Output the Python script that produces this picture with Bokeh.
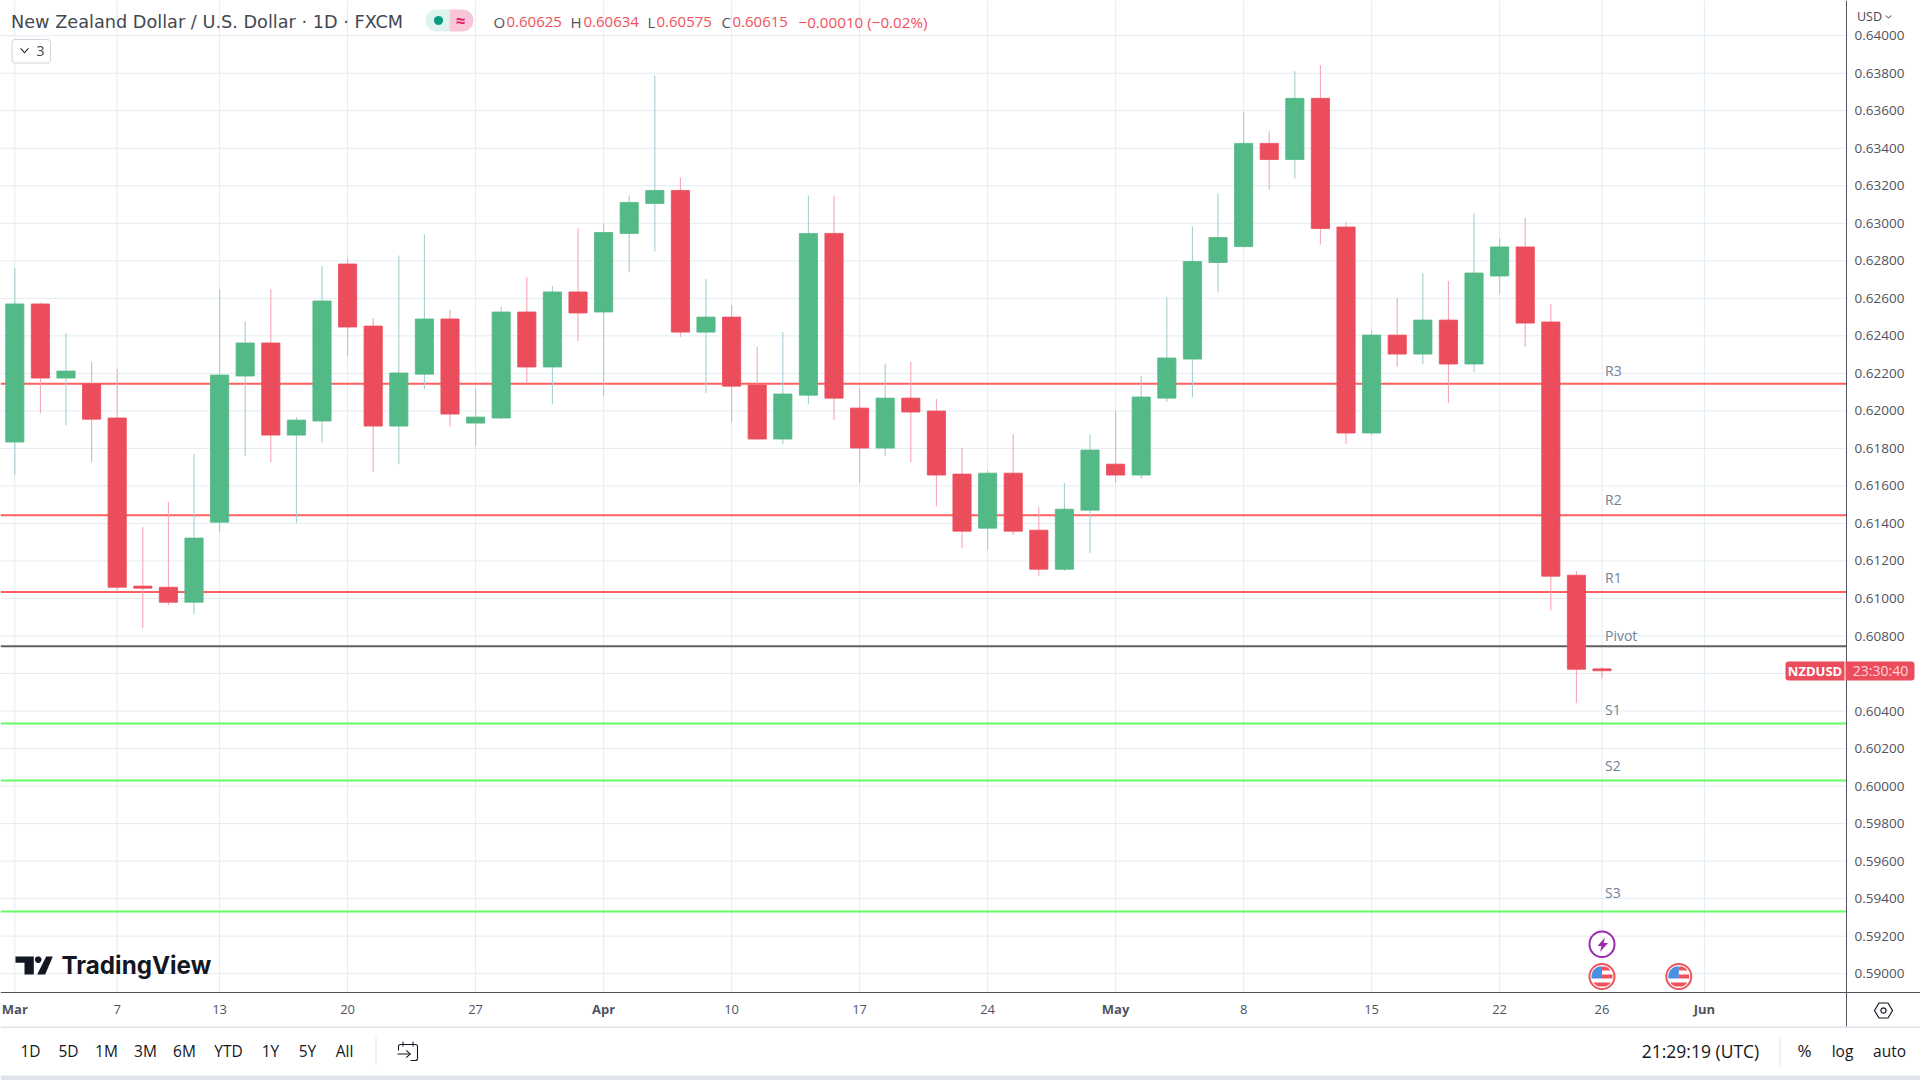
import math
from bokeh.core.properties import value
from bokeh.embed import file_html
from bokeh.models import (BoxAnnotation, ColumnDataSource, FixedTicker, Label, LabelSet,
                          NumeralTickFormatter, PolyAnnotation, Range1d)
from bokeh.plotting import figure
from bokeh.resources import INLINE

# ---- data ----------------------------------------------------------------------
candle_open = [
    .61834, .62570, .62175, .62143, .61962, .61066, .61060, .60980, .61407, .62186,
    .62362, .61871, .61946, .62783, .62452, .61919, .62196, .62490, .61935, .61962,
    .62527, .62234, .62634, .62527, .62946, .63106, .63175, .62420, .62500, .62138,
    .61850, .62084, .62946, .62015, .61802, .62068, .61999, .61663, .61375, .61668,
    .61364, .61156, .61471, .61716, .61658, .62068, .62276, .62791, .62876, .63426,
    .63340, .63666, .62980, .61882, .62404, .62303, .62484, .62250, .62719, .62874,
    .62474, .61124, .60625]
candle_high = [
    .62762, .62575, .62415, .62260, .62223, .61380, .61514, .61770, .62650, .62479,
    .62650, .61967, .62772, .62812, .62495, .62828, .62940, .62538, .62122, .62554,
    .62714, .62666, .62972, .62997, .63148, .63788, .63244, .62703, .62564, .62340,
    .62420, .63148, .63148, .62122, .62250, .62260, .62063, .61802, .61684, .61876,
    .61487, .61615, .61876, .61999, .62186, .62607, .62983, .63159, .63591, .63490,
    .63810, .63842, .63007, .62431, .62602, .62735, .62692, .63055, .62922, .63028,
    .62570, .61146, .60634]
candle_low = [
    .61658, .61988, .61924, .61727, .61034, .60842, .60964, .60916, .61354, .61759,
    .61727, .61402, .61828, .62292, .61674, .61716, .62116, .61914, .61812, .61956,
    .62148, .62036, .62372, .62079, .62738, .62850, .62394, .62095, .61940, .61844,
    .61823, .62036, .61951, .61615, .61759, .61727, .61492, .61268, .61258, .61338,
    .61119, .61146, .61242, .61615, .61636, .62047, .62074, .62631, .62870, .63180,
    .63239, .62887, .61823, .61871, .62234, .62250, .62042, .62207, .62623, .62340,
    .60938, .60442, .60575]
candle_close = [
    .62570, .62175, .62212, .61956, .61060, .61055, .60980, .61322, .62191, .62362,
    .61871, .61951, .62586, .62447, .61919, .62202, .62490, .61983, .61967, .62527,
    .62234, .62634, .62522, .62951, .63111, .63175, .62420, .62500, .62132, .61850,
    .62090, .62946, .62068, .61802, .62068, .61994, .61658, .61359, .61668, .61359,
    .61156, .61476, .61791, .61658, .62074, .62282, .62796, .62924, .63426, .63340,
    .63666, .62972, .61882, .62404, .62303, .62484, .62250, .62735, .62874, .62468,
    .61119, .60623, .60615]

x_tick_positions = [4, 8, 13, 18, 28, 33, 38, 48, 53, 58, 62]
x_tick_labels = ["7", "13", "20", "27", "10", "17", "24", "8", "15", "22", "26"]
month_positions = [0, 23, 43, 66]
month_labels = ["Mar", "Apr", "May", "Jun"]
y_tick_values = [.590, .592, .594, .596, .598, .600, .602, .604, .606, .608, .610, .612, .614,
                 .616, .618, .620, .622, .624, .626, .628, .630, .632, .634, .636, .638, .640]
level_names = ["R3", "R2", "R1", "Pivot", "S1", "S2", "S3"]
level_values = [.62145, .61444, .61034, .60746, .60334, .60030, .59332]
event_positions = [62, 65]
range_buttons = ["1D", "5D", "1M", "3M", "6M", "YTD", "1Y", "5Y", "All"]

# ---- styles ---------------------------------------------------------------------
FONT = "Open Sans"
UP, DOWN = "#53b987", "#eb4d5c"
UP_WICK, DOWN_WICK = "#a4cfd2", "#f7a7b2"
GRID = "#e3ecf2"
AXIS = "#50535e"
R_COL, S_COL, P_COL = "#ff5f5f", "#63ff63", "#606060"
BAR_PX, X0_PX = 25.6, 14.3
W, H = 1920, 1080
# The price pane ends at these data coordinates; the frame spans the whole page.
X_START, X_AXIS_AT, X_END = -0.5586, 71.55, 74.44
Y_BOTTOM, Y_AXIS_AT, Y_AXIS_END, Y_TOP = 0.584307, 0.58900, 0.587185, 0.641876

p = figure(width=W, height=H, output_backend="svg", toolbar_location=None,
           x_range=Range1d(X_START, X_END), y_range=Range1d(Y_BOTTOM, Y_TOP),
           y_axis_location="right", min_border=0,
           background_fill_color="white", border_fill_color="white", outline_line_color=None)

xs = list(range(len(candle_open)))
up = [c >= o for o, c in zip(candle_open, candle_close)]
src = ColumnDataSource(dict(
    x=xs, o=candle_open, h=candle_high, l=candle_low, c=candle_close,
    body=[UP if u else DOWN for u in up], wick=[UP_WICK if u else DOWN_WICK for u in up]))

# grid inside the price pane only
all_x = sorted(x_tick_positions + month_positions)
p.grid.visible = False
p.segment(x0=all_x, x1=all_x, y0=[Y_AXIS_AT] * len(all_x), y1=[Y_TOP] * len(all_x),
          line_color=GRID, line_width=1, level="underlay")
p.segment(x0=[X_START] * len(y_tick_values), x1=[X_AXIS_AT] * len(y_tick_values),
          y0=y_tick_values, y1=y_tick_values, line_color=GRID, line_width=1, level="underlay")

# pivot levels
level_colors = [R_COL if n.startswith("R") else S_COL if n.startswith("S") else P_COL for n in level_names]
p.segment(x0=[X_START] * 7, x1=[X_AXIS_AT] * 7, y0=level_values, y1=level_values,
          line_color=level_colors, line_width=2)

p.segment("x", "h", "x", "l", source=src, line_color="wick", line_width=1.1)
p.vbar(x="x", width=0.711, top="o", bottom="c", source=src, fill_color="body", line_color="body", line_width=0.8)

# axes
over = {x: l for x, l in zip(x_tick_positions, x_tick_labels)}
over.update({m: "" for m in month_positions})
xa = p.xaxis[0]
xa.fixed_location = Y_AXIS_AT
xa.ticker = FixedTicker(ticks=all_x)
xa.major_label_overrides = over
xa.major_tick_line_color = None
xa.minor_tick_line_color = None
xa.axis_line_color = AXIS
xa.major_label_text_color = AXIS
xa.major_label_text_font = FONT
xa.major_label_text_font_size = "13px"
xa.major_label_standoff = 7
ya = p.yaxis[0]
ya.fixed_location = X_AXIS_AT
ya.bounds = (Y_AXIS_END, Y_TOP)
ya.ticker = FixedTicker(ticks=y_tick_values)
ya.formatter = NumeralTickFormatter(format="0.00000")
ya.major_tick_line_color = None
ya.minor_tick_line_color = None
ya.axis_line_color = AXIS
ya.major_label_text_color = AXIS
ya.major_label_text_font = FONT
ya.major_label_text_font_size = "13.5px"
ya.major_label_standoff = 2

# month tick labels (bold)
month_src = ColumnDataSource(dict(x=month_positions, t=month_labels))
p.add_layout(LabelSet(x="x", y=H - 1008, y_units="screen", text="t", source=month_src,
                      text_align="center", text_baseline="middle", text_color=AXIS,
                      text_font=value(FONT), text_font_size="13px", text_font_style="bold"))


# ---- page furniture in page pixels --------------------------------------------
def sx(px):
    return px


def sy(py):
    return H - py


def text(px, py, s, size=14, color="#131722", style="normal", align="left", font=FONT):
    p.add_layout(Label(x=sx(px), y=sy(py), x_units="screen", y_units="screen", text=s,
                       text_font=font, text_font_size=f"{size}px", text_color=color,
                       text_font_style=style, text_align=align, text_baseline="middle",
                       level="overlay"))


def box(l, t, r, b, fill="white", line=None, lw=1, radius=0):
    p.add_layout(BoxAnnotation(left=sx(l), right=sx(r), top=sy(t), bottom=sy(b),
                               left_units="screen", right_units="screen",
                               top_units="screen", bottom_units="screen",
                               fill_color=fill, fill_alpha=1 if fill else 0,
                               line_color=line, line_alpha=1 if line else 0, line_width=lw,
                               border_radius=radius, level="overlay"))


def poly(pts, fill="#131722", line=None, lw=1):
    p.add_layout(PolyAnnotation(xs=[sx(a) for a, _ in pts], ys=[sy(b) for _, b in pts],
                                xs_units="screen", ys_units="screen",
                                fill_color=fill, fill_alpha=1 if fill else 0,
                                line_color=line, line_alpha=1 if line else 0, line_width=lw,
                                level="overlay"))


def ring(cx, cy, r, n=24):
    return [(cx + r * math.cos(2 * math.pi * i / n), cy + r * math.sin(2 * math.pi * i / n)) for i in range(n)]


def band(cx, cy, r, y0, y1, x0, x1, n=10):
    """A part of a disc between two horizontal and two vertical cuts."""
    left, right = [], []
    for i in range(n + 1):
        d = y0 + (y1 - y0) * i / n
        half = math.sqrt(max(r * r - d * d, 0))
        left.append((cx + max(-half, x0), cy + d))
        right.append((cx + min(half, x1), cy + d))
    return left + right[::-1]


# labels of the pivot levels
for name, py in zip(level_names, [370, 499, 577, 635, 709, 765, 892]):
    text(1604.5, py, name, size=14, color="#6f8296")

# header
text(10.5, 21, "New Zealand Dollar / U.S. Dollar · 1D · FXCM", size=17.7, color="#444851", font="DejaVu Sans")
box(425, 9, 449, 31, fill="#dff3ef", radius=(11, 0, 0, 11))
box(449, 9, 473, 31, fill="#f8c6d8", radius=(0, 11, 11, 0))
poly(ring(438, 20, 4.5), fill="#089981")
text(460, 20, "≈", size=17, color="#e91e63", style="bold", align="center")
for letter, lx, val, vx in zip("OHLC", [493, 570, 647, 721], ["0.60625", "0.60634", "0.60575", "0.60615"],
                               [506, 583, 656, 732]):
    text(lx, 21, letter, size=15, color=AXIS)
    text(vx, 21, val, size=15, color="#f0505c")
text(798, 21, "−0.00010 (−0.02%)", size=15.2, color="#f0505c")
box(11.5, 39, 50, 62.5, fill="white", line="#d1d4dc", radius=3)
poly([(20, 47), (24, 51.5), (28, 47), (28, 48.5), (24, 53), (20, 48.5)], fill="#131722")
text(36, 50, "3", size=14, color="#444851")
text(1856.5, 15.5, "USD", size=12.5, color="#444851")
poly([(1885, 14.5), (1888, 17), (1891, 14.5), (1891, 15.5), (1888, 18), (1885, 15.5)], fill="#444851")

# price tag
box(1785, 661, 1844, 680, fill=DOWN, radius=(3, 0, 0, 3))
text(1814.5, 670, "NZDUSD", size=13, color="white", style="bold", align="center")
box(1845, 661, 1914, 680, fill=DOWN, radius=(0, 3, 3, 0))
text(1880, 670, "23:30:40", size=14, color="#ffd3d8", align="center")

# logo
poly([(15, 956), (33.3, 956), (33.3, 974), (24, 974), (24, 962.3), (15, 962.3)], fill="#131722")
poly(ring(37.7, 959.2, 3.3), fill="#131722")
poly([(45.7, 956), (52.3, 956), (44.7, 974), (36.7, 974)], fill="#131722")
text(61, 965, "TradingView", size=24.2, color="#131722", style="bold", font="Inter")

# separators, bands, gear
box(0, 1026, 1920, 1027.5, fill="#e0e3eb")
box(0, 1075, 1920, 1080, fill="#e0e3eb")
box(375, 1037, 376, 1065, fill="#e0e3eb")
box(1779, 1037, 1780, 1065, fill="#e0e3eb")
poly([(1874, 1010), (1878.5, 1002.5), (1887.5, 1002.5), (1892, 1010), (1887.5, 1017.5), (1878.5, 1017.5)],
     fill="white", line="#131722", lw=1.2)
poly(ring(1883, 1010, 2.6, 12), fill="white", line="#131722", lw=1.2)

# bottom bar
for label, cx in zip(range_buttons, [30, 68, 106, 145, 184, 228, 270, 307, 344]):
    text(cx, 1050, label, size=15.5, color="#131722", align="center")
box(398, 1044, 417, 1060, fill="white", line="#131722", lw=1.1, radius=2)
box(394, 1050, 410, 1062, fill="white")
poly([(397, 1053), (410, 1053), (410, 1054), (397, 1054)])
poly([(406, 1049.5), (410.5, 1053.5), (406, 1057.5), (405.3, 1056.8), (409, 1053.5), (405.3, 1050.2)])
box(402, 1041, 403, 1046, fill="#131722")
box(412, 1041, 413, 1046, fill="#131722")
text(1700, 1050, "21:29:19 (UTC)", size=17.5, color="#131722", align="center")
text(1804, 1050, "%", size=17, color="#131722", align="center")
text(1842, 1050, "log", size=15.5, color="#131722", align="center")
text(1889, 1050, "auto", size=15.5, color="#131722", align="center")

# event badges
event_cx = [X0_PX + BAR_PX * i for i in event_positions]
box(event_cx[0] - 12.5, 931, event_cx[0] + 12.5, 956.5, fill="white", line="#9c27b0", lw=2, radius=13)
poly([(1604.5, 937), (1597, 945.5), (1601, 945.5), (1599.5, 951.5), (1607.5, 942.5), (1603, 942.5)], fill="#9c27b0")
for cx in event_cx:
    cy = 976
    box(cx - 12.5, cy - 12.5, cx + 12.5, cy + 12.5, fill="white", line="#f0525c", lw=2, radius=13)
    poly(band(cx, cy, 10.5, -10, 2, -11, 0), fill="#4a90e2")
    poly(band(cx, cy, 10.5, -10, -6, 0, 11), fill="#f0525c")
    poly(band(cx, cy, 10.5, -2, 2, 0, 11), fill="#f0525c")
    poly(band(cx, cy, 10.5, 6, 10, -11, 11), fill="#f0525c")

open("out.html", "w").write(file_html(p, INLINE))
